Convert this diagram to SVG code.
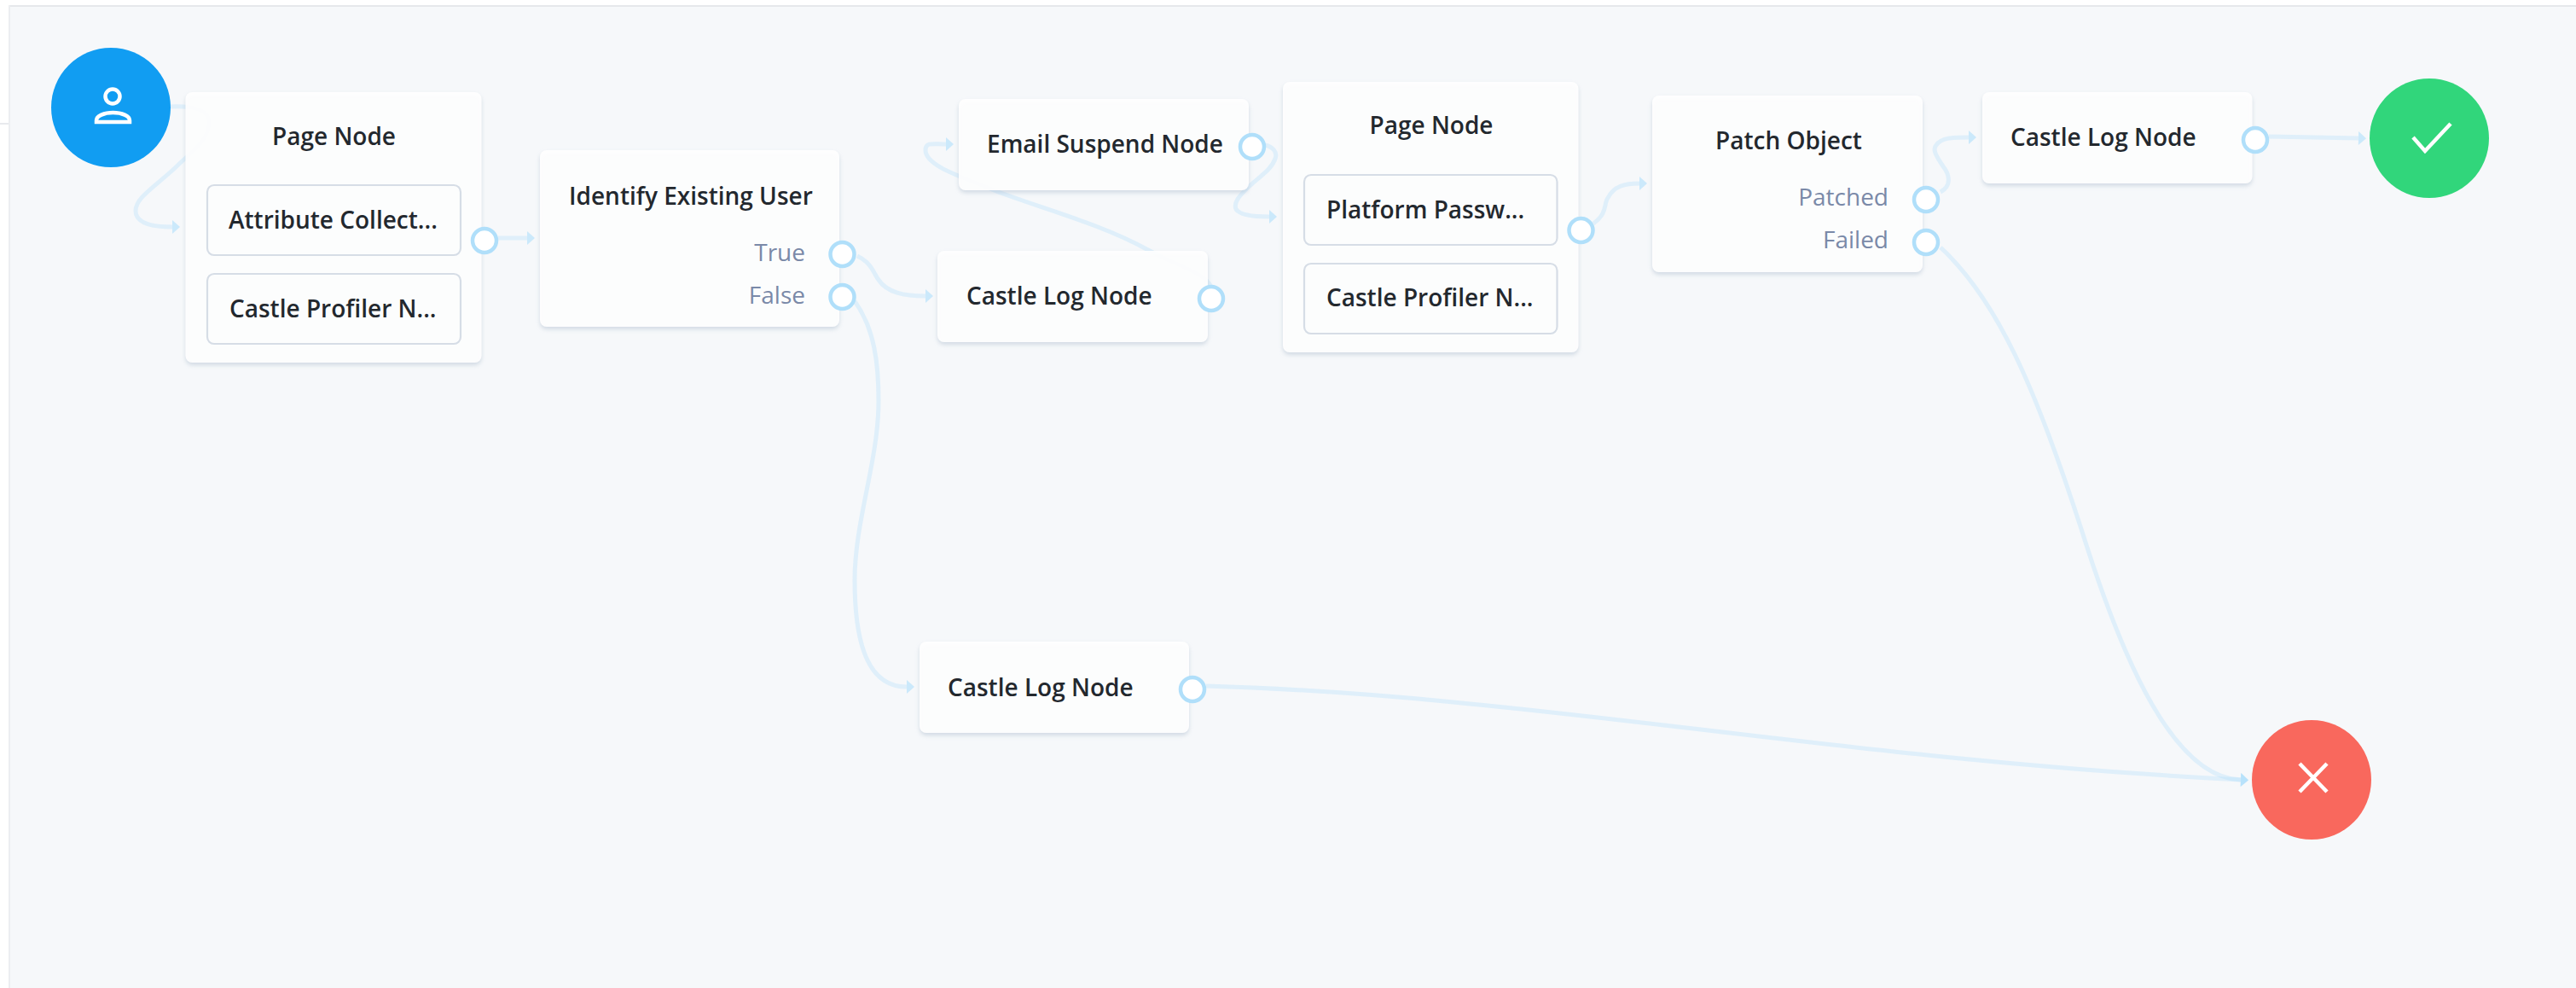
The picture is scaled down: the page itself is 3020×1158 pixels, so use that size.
<svg xmlns="http://www.w3.org/2000/svg" width="3020" height="1158" viewBox="0 0 3020 1158">
<style>
.node{fill:#fff;fill-opacity:.92;filter:url(#sh)}
.inner{fill:none;stroke:#d6dde6;stroke-width:2.2}
.port{fill:#fff;stroke:#b0dffa;stroke-width:4.5}
.conn{fill:none;stroke:#a8dcfb;stroke-opacity:.3;stroke-width:5;marker-end:url(#arr)}
text{font-family:"Open Sans","Noto Sans",sans-serif;font-size:28px;font-weight:600;fill:#23282e}
text.sub{font-weight:400;fill:#7a89a8}
.ic{fill:none;stroke:#fff;stroke-width:4.5}
</style>
<defs>
<filter id="sh" x="-10%" y="-10%" width="120%" height="125%"><feDropShadow dx="0" dy="3" stdDeviation="2.500" flood-color="#9fb2c6" flood-opacity=".45"/></filter>
<marker id="arr" markerUnits="userSpaceOnUse" markerWidth="10" markerHeight="18" refX="0" refY="8" orient="auto" overflow="visible"><path d="M0 0L9 8L0 16Z" fill="#a8dcfb" fill-opacity=".55"/></marker>
</defs>
<rect width="3020" height="1158" fill="#f6f8fa"/>
<rect x="0" y="0" width="3020" height="6" fill="#fff"/>
<rect x="0" y="6" width="3020" height="2" fill="#e6e8eb"/>
<rect x="0" y="0" width="10" height="1158" fill="#fff"/>
<rect x="10" y="6" width="2" height="1152" fill="#eceef1"/>
<rect x="0" y="144" width="10" height="2" fill="#e8eaed"/>
<g id="connectors">
<path class="conn" d="M200 125C225 124 245 128 245 143C245 165 225 177 205 197C180 220 159 232 159 247C159 262 180 266 202 266"/>
<path class="conn" d="M584 279L618 279"/>
<path class="conn" d="M1005 300C1022 308 1024 320 1030 328C1040 343 1060 347 1085 347"/>
<path class="conn" d="M1002 353C1025 385 1030 425 1030 470C1030 540 1002 610 1002 680C1002 760 1020 805 1063 805"/>
<path class="conn" d="M1420 336C1410 318 1380 312 1346 293C1290 262 1220 244 1168 224C1130 208 1085 195 1085 176C1085 166 1095 169 1109 169"/>
<path class="conn" d="M1483 170C1492 172 1498 178 1495 186C1490 200 1475 208 1465 218C1452 230 1446 238 1449 245C1453 252 1468 254 1488 254"/>
<path class="conn" d="M1868 262C1885 250 1880 238 1885 232C1892 218 1905 215 1922 215"/>
<path class="conn" d="M2275 225C2288 218 2286 205 2278 195C2270 183 2265 175 2270 170C2276 161 2290 161 2308 161"/>
<path class="conn" d="M2275 290C2340 350 2385 450 2440 620C2490 780 2550 912 2627 914"/>
<path class="conn" d="M1414 804C1800 815 2150 890 2627 914"/>
<path class="conn" d="M2660 160L2765 162"/>
</g>
<g id="start"><circle cx="130" cy="126" r="70" fill="#119df2"/><circle class="ic" cx="132" cy="113" r="8.500"/><path class="ic" d="M113 143V141C113 136 122 132 132.500 132C143 132 152 136 152 141V143Z"/></g>
<g id="page1">
<rect class="node" x="217.500" y="108" width="347" height="317" rx="8"/>
<text x="319" y="170">Page Node</text>
<rect class="inner" x="243" y="217" width="297" height="82" rx="8"/><text x="268" y="268">Attribute Collect...</text>
<rect class="inner" x="243" y="321" width="297" height="82" rx="8"/><text x="269" y="372">Castle Profiler N...</text>
<circle class="port" cx="568" cy="282" r="14"/>
</g>
<g id="identify">
<rect class="node" x="633" y="176" width="351" height="207" rx="8"/>
<text x="667" y="240">Identify Existing User</text>
<text class="sub" x="944" y="306" text-anchor="end">True</text>
<text class="sub" x="944" y="356" text-anchor="end">False</text>
<circle class="port" cx="987.500" cy="298" r="14"/><circle class="port" cx="987.500" cy="348" r="14"/>
</g>
<g id="email">
<rect class="node" x="1124" y="116" width="340" height="107" rx="8"/>
<text x="1157" y="179">Email Suspend Node</text>
<circle class="port" cx="1468" cy="172" r="14"/>
</g>
<g id="log1">
<rect class="node" x="1099" y="294" width="317" height="107" rx="8"/>
<text x="1133" y="357">Castle Log Node</text>
<circle class="port" cx="1420" cy="350" r="14"/>
</g>
<g id="page2">
<rect class="node" x="1504" y="96" width="346.500" height="317" rx="8"/>
<text x="1605.500" y="157">Page Node</text>
<rect class="inner" x="1529" y="205" width="296.500" height="82" rx="8"/><text x="1555" y="256">Platform Passw...</text>
<rect class="inner" x="1529" y="309" width="296.500" height="82" rx="8"/><text x="1555" y="359">Castle Profiler N...</text>
<circle class="port" cx="1853.500" cy="270" r="14"/>
</g>
<g id="patch">
<rect class="node" x="1937" y="112" width="317" height="207" rx="8"/>
<text x="2011" y="175">Patch Object</text>
<text class="sub" x="2214" y="241" text-anchor="end">Patched</text>
<text class="sub" x="2214" y="291" text-anchor="end">Failed</text>
<circle class="port" cx="2258" cy="234" r="14"/><circle class="port" cx="2258" cy="284" r="14"/>
</g>
<g id="log2">
<rect class="node" x="2324" y="108" width="316.500" height="107" rx="8"/>
<text x="2357" y="171">Castle Log Node</text>
<circle class="port" cx="2644" cy="164" r="14"/>
</g>
<g id="log3">
<rect class="node" x="1078" y="752" width="316" height="107" rx="8"/>
<text x="1111" y="816">Castle Log Node</text>
<circle class="port" cx="1398" cy="808" r="14"/>
</g>
<g id="success"><circle cx="2848" cy="162" r="70" fill="#31d67b"/><path class="ic" d="M2829 161L2843 177L2873 145"/></g>
<g id="failure"><circle cx="2710" cy="914" r="70" fill="#f9685d"/><path class="ic" d="M2696 895L2728 928M2728 895L2696 928"/></g>
</svg>
